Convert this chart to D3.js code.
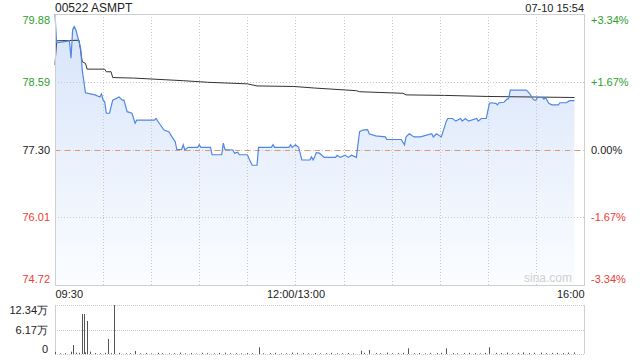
<!DOCTYPE html>
<html>
<head>
<meta charset="utf-8">
<script src="https://cdn.jsdelivr.net/npm/d3@7"></script>
<style>
  body { margin: 0; background: #fff; }
  svg { display: block; font-family: "Liberation Sans", Arial, sans-serif; }
</style>
</head>
<body>
<div id="chart"></div>
<script>
// minutes since 09:30 in trading time (lunch 12:00-13:00 removed), 330 = 16:00
const SESSION_MINUTES = 330;
const stockTitle = '00522 ASMPT';
const stampText = '07-10 15:54';
const prevClose = 77.30;
const priceTicks = [74.72, 76.01, 77.30, 78.59, 79.88];
const timeTicks = [0, 150, 330];
const timeLabels = ['09:30', '12:00/13:00', '16:00'];

const priceMinute = [0, 1, 9, 10, 11, 12, 13, 16, 17, 19, 25, 28, 29, 30, 31, 32, 34, 36, 40, 42, 43, 45, 48, 50, 51,
  62, 63, 65, 68, 71, 73, 75, 76, 79, 80, 81, 83, 89, 90, 91, 97, 98, 104, 105, 106, 111, 112, 114, 115, 120,
  121, 123, 126, 127, 135, 136, 137, 146, 147, 148, 150, 152, 154, 159, 160, 161, 162, 163, 165, 168, 175,
  176, 178, 181, 183, 185, 188, 190, 192, 195, 196, 200, 206, 207, 216, 218, 219, 221, 224, 228, 235, 236,
  238, 241, 243, 244, 245, 248, 250, 253, 254, 256, 258, 263, 264, 266, 269, 271, 272, 275, 276, 277, 280,
  282, 283, 284, 294, 296, 298, 299, 300, 301, 304, 305, 306, 308, 310, 314, 315, 319, 321, 324];
const priceValue = [79.88, 79.33, 79.37, 79.04, 79.58, 79.64, 79.58, 79.23, 78.81, 78.38, 78.34, 78.30, 78.36, 78.24,
  78.21, 77.99, 77.99, 78.24, 78.30, 78.24, 78.24, 78.02, 77.99, 77.80, 77.86,
  77.86, 77.89, 77.80, 77.67, 77.64, 77.54, 77.45, 77.30, 77.30, 77.39, 77.29, 77.34, 77.34, 77.39, 77.34,
  77.34, 77.20, 77.20, 77.42, 77.30, 77.29, 77.23, 77.25, 77.20, 77.20,
  77.13, 77.00, 77.00, 77.34, 77.34, 77.39, 77.34, 77.34, 77.39, 77.34, 77.39, 77.34, 77.10, 77.10, 77.16,
  77.10, 77.16, 77.24, 77.23, 77.15, 77.15,
  77.19, 77.15, 77.19, 77.15, 77.19, 77.15, 77.64, 77.67, 77.68, 77.60, 77.56, 77.54, 77.49, 77.49, 77.39,
  77.54, 77.60, 77.54, 77.54, 77.60, 77.54,
  77.60, 77.54, 77.73, 77.83, 77.89, 77.89, 77.84, 77.89, 77.84, 77.89, 77.84, 77.89, 77.84, 77.89, 77.89,
  78.18, 78.19, 78.18, 78.15, 78.19, 78.20,
  78.26, 78.27, 78.43, 78.43, 78.37, 78.27, 78.24, 78.24, 78.29, 78.29, 78.26, 78.29, 78.18, 78.15, 78.15,
  78.19, 78.19, 78.23, 78.23];

const avgMinute = [0, 1, 15, 17, 19, 20, 31, 32, 35, 36, 49, 80, 95, 120, 126, 149, 162, 188, 190, 217, 219, 243, 270, 324];
const avgValue = [78.91, 79.37, 79.38, 78.97, 78.94, 78.83, 78.83, 78.78, 78.78, 78.67, 78.66, 78.61, 78.58, 78.55,
  78.51, 78.50, 78.47, 78.42, 78.40, 78.37, 78.34, 78.33, 78.31, 78.29];

// volume in 万 shares
const volTicks = [0, 6.17, 12.34];
const volMinute = [0, 3, 6, 10, 11, 13, 15, 17, 18, 19, 20, 22, 25, 28, 31, 33, 35, 37, 40, 44, 47, 50, 53, 57, 60,
  64, 67, 71, 74, 78, 81, 85, 88, 92, 95, 99, 102, 106, 109, 113, 116, 120, 123, 127, 130, 134, 137, 141, 144,
  148, 151, 155, 158, 162, 165, 169, 172, 176, 179, 183, 186, 191, 193, 196, 200, 203, 207, 210, 214, 217, 220,
  224, 227, 231, 234, 238, 241, 244, 248, 251, 255, 258, 262, 265, 268, 271, 275, 278, 282, 285, 289, 292, 296,
  299, 303, 306, 310, 313, 317, 320, 324];
const volValue = [0.52, 0.18, 0.22, 0.58, 2.27, 0.35, 0.30, 10.07, 10.07, 0.40, 8.31, 0.60, 0.25, 0.20, 0.30, 3.78,
  0.22, 12.34, 0.28, 0.15, 0.20, 0.76, 0.18, 0.25, 0.12,
  0.30, 0.20, 0.15, 0.22, 0.35, 0.18, 0.25, 0.12, 0.30, 0.20, 0.16, 0.28, 0.32, 0.18, 0.22, 0.15, 0.25, 0.20,
  1.69, 0.18, 0.22, 0.30, 0.15, 0.20,
  0.35, 0.28, 0.20, 0.18, 0.25, 0.15, 0.22, 0.30, 0.18, 0.20, 0.26, 0.15, 0.84, 0.30, 1.00, 0.25, 0.18, 0.35,
  0.20, 0.22, 0.30, 1.43,
  0.20, 0.25, 0.15, 0.28, 0.20, 0.30, 1.43, 0.22, 0.18, 0.25, 0.30, 0.20, 0.15, 0.28, 1.69, 0.30, 0.22, 0.35,
  0.20, 0.28, 0.40, 0.25,
  0.30, 0.35, 0.20, 0.28, 0.30, 0.22, 0.35, 0.40];

const width = 640;
const height = 360;
const plot = { left: 55, right: 584, top: 14, bottom: 285 };
const volPlot = { top: 305, bottom: 354 };

const GREEN = '#2ca02c';
const RED = '#f03c32';
const GRID = '#c8c8c8';
const BORDER = '#cfcfcf';

const svg = d3.select('#chart').append('svg')
  .attr('width', width)
  .attr('height', height);

const x = d3.scaleLinear()
  .domain([0, SESSION_MINUTES])
  .range([plot.left, plot.right]);

const y = d3.scaleLinear()
  .domain([priceTicks[0], priceTicks[priceTicks.length - 1]])
  .range([plot.bottom, plot.top]);

const yVol = d3.scaleLinear()
  .domain([0, volTicks[volTicks.length - 1]])
  .range([volPlot.bottom, volPlot.top]);

const pct = (p) => (p - prevClose) / prevClose * 100;
const tickColor = (p) => Math.abs(p - prevClose) < 1e-6 ? '#222' : (p > prevClose ? GREEN : RED);

// gradient for the area under the price line
const defs = svg.append('defs');
const grad = defs.append('linearGradient')
  .attr('id', 'areaFill')
  .attr('gradientUnits', 'userSpaceOnUse')
  .attr('x1', 0).attr('x2', 0)
  .attr('y1', plot.top).attr('y2', plot.bottom);
grad.append('stop').attr('offset', 0).attr('stop-color', '#d6e3fa');
grad.append('stop').attr('offset', 1).attr('stop-color', '#fbfdff');

// header
svg.append('text')
  .attr('x', plot.left)
  .attr('y', 12)
  .attr('font-size', 12)
  .attr('fill', '#222')
  .text(stockTitle);

svg.append('text')
  .attr('x', plot.right)
  .attr('y', 12)
  .attr('text-anchor', 'end')
  .attr('font-size', 11)
  .attr('fill', '#222')
  .text(stampText);

const pricePoints = priceMinute.map((m, i) => [m, priceValue[i]]);
const avgPoints = avgMinute.map((m, i) => [m, avgValue[i]]);

// area
svg.append('path')
  .datum(pricePoints)
  .attr('fill', 'url(#areaFill)')
  .attr('d', d3.area()
    .x(d => x(d[0]))
    .y0(plot.bottom)
    .y1(d => y(d[1])));

// vertical grid (every 30 minutes)
const gridMinutes = d3.range(30, SESSION_MINUTES, 30);
svg.append('g')
  .selectAll('line')
  .data(gridMinutes)
  .enter().append('line')
    .attr('x1', d => Math.round(x(d)) + 0.5)
    .attr('x2', d => Math.round(x(d)) + 0.5)
    .attr('y1', plot.top)
    .attr('y2', plot.bottom)
    .attr('stroke', GRID)
    .attr('stroke-dasharray', '1,2');

// horizontal grid
svg.append('g')
  .selectAll('line')
  .data(priceTicks.slice(1, -1))
  .enter().append('line')
    .attr('x1', plot.left)
    .attr('x2', plot.right)
    .attr('y1', d => Math.round(y(d)) + 0.5)
    .attr('y2', d => Math.round(y(d)) + 0.5)
    .attr('stroke', GRID)
    .attr('stroke-dasharray', '1,2');

// previous close
svg.append('line')
  .attr('x1', plot.left)
  .attr('x2', plot.right)
  .attr('y1', Math.round(y(prevClose)) + 0.5)
  .attr('y2', Math.round(y(prevClose)) + 0.5)
  .attr('stroke', '#e8946a')
  .attr('stroke-dasharray', '5,5');

// average price line
svg.append('path')
  .datum(avgPoints)
  .attr('fill', 'none')
  .attr('stroke', '#333')
  .attr('stroke-width', 1)
  .attr('d', d3.line().x(d => x(d[0])).y(d => y(d[1])));

// price line
svg.append('path')
  .datum(pricePoints)
  .attr('fill', 'none')
  .attr('stroke', '#4f87e6')
  .attr('stroke-width', 1.2)
  .attr('d', d3.line().x(d => x(d[0])).y(d => y(d[1])));

// plot border
svg.append('rect')
  .attr('x', plot.left + 0.5)
  .attr('y', plot.top + 0.5)
  .attr('width', plot.right - plot.left)
  .attr('height', plot.bottom - plot.top)
  .attr('fill', 'none')
  .attr('stroke', BORDER);

// watermark
svg.append('text')
  .attr('x', plot.right - 12)
  .attr('y', plot.bottom - 3)
  .attr('text-anchor', 'end')
  .attr('font-size', 12)
  .attr('fill', '#d0d0d0')
  .text('sina.com');

// left price axis
const leftAxis = svg.append('g')
  .attr('transform', `translate(${plot.left - 2},0)`)
  .call(d3.axisLeft(y).tickValues(priceTicks).tickSize(0).tickFormat(d3.format('.2f')));
leftAxis.select('.domain').remove();
leftAxis.selectAll('text')
  .attr('font-size', 11)
  .attr('font-family', '"Liberation Sans", Arial, sans-serif')
  .attr('fill', d => tickColor(d))
  .attr('dy', (d, i) => i === priceTicks.length - 1 ? '0.9em' : (i === 0 ? '-0.2em' : '0.32em'));

// right percent axis
const rightAxis = svg.append('g')
  .attr('transform', `translate(${plot.right + 4},0)`)
  .call(d3.axisRight(y).tickValues(priceTicks).tickSize(0)
    .tickFormat(d => (pct(d) > 0.001 ? '+' : '') + pct(d).toFixed(2) + '%'));
rightAxis.select('.domain').remove();
rightAxis.selectAll('text')
  .attr('font-size', 11)
  .attr('font-family', '"Liberation Sans", Arial, sans-serif')
  .attr('fill', d => tickColor(d))
  .attr('dy', (d, i) => i === priceTicks.length - 1 ? '0.9em' : (i === 0 ? '-0.2em' : '0.32em'));

// time axis
const timeAxis = svg.append('g')
  .attr('transform', `translate(0,${plot.bottom + 2})`)
  .call(d3.axisBottom(x).tickValues(timeTicks).tickSize(0)
    .tickFormat((d, i) => timeLabels[i]));
timeAxis.select('.domain').remove();
timeAxis.selectAll('text')
  .attr('font-size', 11)
  .attr('font-family', '"Liberation Sans", Arial, sans-serif')
  .attr('fill', '#222')
  .attr('text-anchor', (d, i) => i === 0 ? 'start' : (i === timeTicks.length - 1 ? 'end' : 'middle'));

// volume panel grid
svg.append('g')
  .selectAll('line')
  .data(volTicks)
  .enter().append('line')
    .attr('x1', plot.left)
    .attr('x2', plot.right)
    .attr('y1', d => Math.round(yVol(d)) + 0.5)
    .attr('y2', d => Math.round(yVol(d)) + 0.5)
    .attr('stroke', GRID)
    .attr('stroke-dasharray', '1,1');

svg.append('line')
  .attr('x1', plot.left + 0.5).attr('x2', plot.left + 0.5)
  .attr('y1', volPlot.top).attr('y2', volPlot.bottom)
  .attr('stroke', BORDER);
svg.append('line')
  .attr('x1', plot.right + 0.5).attr('x2', plot.right + 0.5)
  .attr('y1', volPlot.top).attr('y2', volPlot.bottom)
  .attr('stroke', BORDER);

// volume bars
svg.append('g')
  .selectAll('line')
  .data(volMinute.map((m, i) => [m, volValue[i]]))
  .enter().append('line')
    .attr('x1', d => Math.round(x(d[0])) + 0.5)
    .attr('x2', d => Math.round(x(d[0])) + 0.5)
    .attr('y1', yVol(0))
    .attr('y2', d => yVol(d[1]))
    .attr('stroke', '#555')
    .attr('stroke-width', 1);

// volume axis
const volAxis = svg.append('g')
  .attr('transform', `translate(${plot.left - 4},0)`)
  .call(d3.axisLeft(yVol).tickValues(volTicks).tickSize(0)
    .tickFormat(d => d === 0 ? '0' : d.toFixed(2) + '万'));
volAxis.select('.domain').remove();
volAxis.selectAll('text')
  .attr('font-size', 11)
  .attr('font-family', '"Liberation Sans", Arial, sans-serif')
  .attr('fill', '#222')
  .attr('dy', (d, i) => i === volTicks.length - 1 ? '0.75em' : (i === 0 ? '-0.1em' : '0.32em'));
</script>
</body>
</html>
